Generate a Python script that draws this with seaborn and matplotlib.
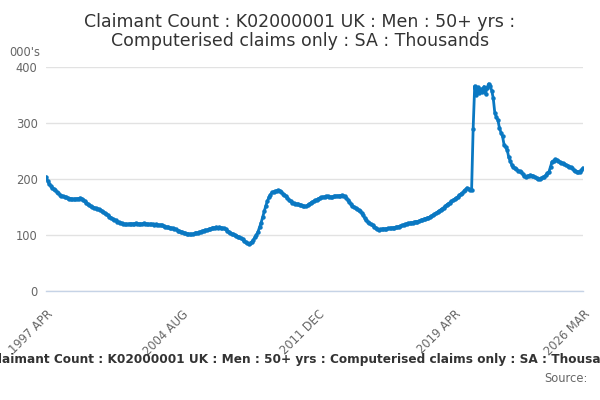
import numpy as np
import pandas as pd
import seaborn as sns
import matplotlib.pyplot as plt

# monthly values, 1997 APR .. 2026 MAR (thousands), one row per 12 months
claimants = [
    204, 197, 191, 188, 184, 182, 180, 177, 175, 172, 170, 169,
    168, 167, 166, 165, 165, 164, 164, 164, 165, 165, 166, 165,
    162, 160, 158, 155, 153, 151, 150, 149, 148, 147, 146, 145,
    143, 141, 139, 137, 135, 133, 131, 129, 127, 126, 124, 123,
    122, 121, 120, 119, 119, 119, 120, 120, 120, 120, 121, 120,
    120, 120, 120, 121, 120, 120, 119, 119, 119, 119, 118, 119,
    118, 118, 118, 117, 116, 115, 114, 114, 113, 112, 112, 111,
    110, 108, 107, 106, 105, 104, 103, 102, 102, 101, 101, 102,
    103, 104, 104, 105, 106, 107, 108, 109, 109, 110, 111, 112,
    113, 113, 114, 113, 114, 113, 112, 112, 110, 108, 106, 104,
    102, 101, 100, 99, 97, 96, 94, 92, 89, 87, 85, 84,
    85, 88, 91, 96, 100, 106, 114, 122, 132, 142, 152, 160,
    167, 172, 176, 177, 178, 179, 180, 179, 177, 174, 172, 169,
    166, 163, 160, 158, 157, 156, 155, 155, 154, 153, 152, 151,
    151, 153, 155, 157, 159, 160, 162, 163, 165, 166, 167, 168,
    168, 169, 169, 168, 168, 168, 169, 169, 170, 170, 170, 171,
    170, 169, 166, 163, 159, 155, 152, 150, 148, 146, 144, 142,
    139, 135, 130, 126, 123, 121, 119, 117, 115, 113, 111, 109,
    110, 110, 111, 111, 111, 112, 112, 112, 113, 113, 114, 114,
    115, 116, 117, 118, 119, 120, 121, 121, 122, 122, 123, 124,
    124, 125, 126, 127, 128, 129, 130, 131, 132, 134, 135, 137,
    139, 141, 143, 145, 147, 149, 151, 154, 156, 158, 160, 162,
    164, 166, 168, 171, 173, 175, 178, 181, 184, 182, 180, 180,
    290, 366, 350, 364, 354, 361, 356, 365, 352, 363, 370, 366,
    358, 344, 318, 311, 305, 291, 283, 276, 261, 257, 252, 239,
    232, 225, 221, 219, 217, 215, 214, 212, 209, 206, 204, 205,
    206, 207, 206, 205, 203, 201, 200, 200, 201, 203, 204, 207,
    210, 213, 222, 231, 233, 235, 234, 232, 230, 229, 228, 227,
    225, 224, 222, 221, 219, 216, 214, 213, 213, 213, 216, 220,
]
tick_months = list(range(0, 331, 22)) + [347]
label_months = [0, 88, 176, 264, 347]
label_texts = ["1997 APR", "2004 AUG", "2011 DEC", "2019 APR", "2026 MAR"]
y_ticks = [0, 100, 200, 300, 400]

df = pd.DataFrame({"month": np.arange(len(claimants)), "value": claimants})

sns.set_style("white")
fig = plt.figure(figsize=(6, 4), dpi=100)
ax = fig.add_axes([0.0767, 0.2725, 0.895, 0.56])

sns.lineplot(data=df, x="month", y="value", ax=ax, color="#0a78c2",
             linewidth=2.0, marker="o", markersize=3.2, markeredgewidth=0)

ax.set_xlim(0, 347)
ax.set_ylim(0, 400)
ax.set_yticks(y_ticks)
ax.set_yticklabels([str(v) for v in y_ticks], color="#666666", fontsize=8.3)
ax.yaxis.grid(True, color="#e2e2e2", linewidth=1)
ax.set_axisbelow(True)

ax.set_xticks(tick_months)
ax.set_xticklabels([label_texts[label_months.index(m)] if m in label_months else ""
                    for m in tick_months],
                   rotation=45, ha="right", rotation_mode="anchor",
                   color="#666666", fontsize=8.3)
ax.tick_params(axis="x", length=10, width=1, color="#c6d3e6", pad=2, direction="out")
ax.tick_params(axis="y", length=0, pad=6)
ax.set_xlabel("")
ax.set_ylabel("")
for side in ["top", "right", "left"]:
    ax.spines[side].set_visible(False)
ax.spines["bottom"].set_color("#c6d3e6")
ax.spines["bottom"].set_linewidth(1)

fig.text(0.5, 0.968, "Claimant Count : K02000001 UK : Men : 50+ yrs :\nComputerised claims only : SA : Thousands",
         ha="center", va="top", fontsize=12.5, color="#333333", linespacing=1.05)
fig.text(0.015, 0.868, "000's", ha="left", va="center", fontsize=8.3, color="#666666")
fig.text(0.512, 0.1, "Claimant Count : K02000001 UK : Men : 50+ yrs : Computerised claims only : SA : Thousands",
         ha="center", va="center", fontsize=8.7, fontweight="bold", color="#333333")
fig.text(0.98, 0.055, "Source:", ha="right", va="center", fontsize=8.3, color="#666666")

fig.savefig("out.png", dpi=100)
